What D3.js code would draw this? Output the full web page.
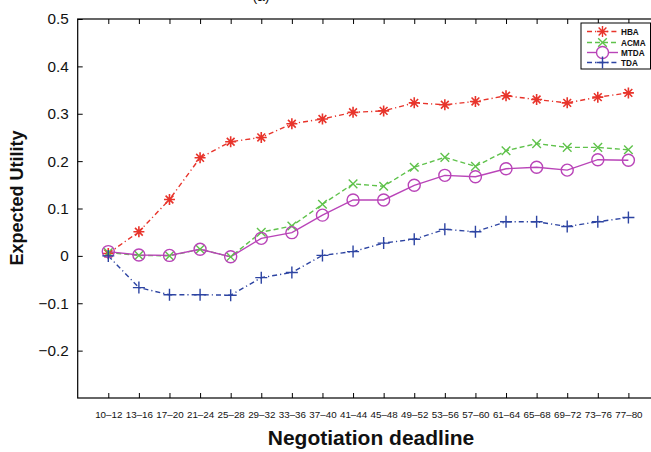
<!DOCTYPE html>
<html><head><meta charset="utf-8">
<script src="https://cdn.jsdelivr.net/npm/d3@7"></script>
<style>body{margin:0;background:#fff}svg{display:block;font-family:"Liberation Sans",Arial,Helvetica,sans-serif}</style>
</head><body>
<script>
const categories = ["10–12","13–16","17–20","21–24","25–28","29–32","33–36","37–40","41–44","45–48","49–52","53–56","57–60","61–64","65–68","69–72","73–76","77–80"];
const HBA  = [0.005,0.051,0.119,0.207,0.241,0.250,0.279,0.289,0.303,0.306,0.323,0.319,0.326,0.338,0.330,0.323,0.335,0.344];
const ACMA = [0.007,0.001,0.000,0.014,-0.002,0.050,0.063,0.109,0.152,0.147,0.187,0.208,0.189,0.222,0.237,0.229,0.229,0.224];
const MTDA = [0.009,0.002,0.001,0.014,-0.002,0.037,0.049,0.086,0.118,0.118,0.149,0.170,0.167,0.184,0.187,0.181,0.203,0.202];
const TDA  = [0.000,-0.067,-0.082,-0.082,-0.083,-0.046,-0.035,0.001,0.009,0.027,0.035,0.056,0.051,0.072,0.072,0.062,0.072,0.081];
const yTicks = [-0.2,-0.1,0,0.1,0.2,0.3,0.4,0.5];
const yTickLabels = ["\u22120.2","\u22120.1","0","0.1","0.2","0.3","0.4","0.5"];
const seriesNames = ["HBA","ACMA","MTDA","TDA"];

const W = 651, H = 452;
const L = 77.7, R = 659, T = 19, B = 398;
const svg = d3.select("body").append("svg").attr("width", W).attr("height", H);

const x = d3.scalePoint().domain(categories).range([L, R]).padding(1);
const y = d3.scaleLinear().domain([-0.3, 0.5]).range([B, T]);

// frame
svg.append("rect").attr("x", L).attr("y", T).attr("width", R - L).attr("height", B - T)
  .attr("fill", "none").attr("stroke", "#000").attr("stroke-width", 1.2);

// axes
const yAx = svg.append("g").attr("transform", `translate(${L},0)`)
  .call(d3.axisLeft(y).tickValues(yTicks).tickSize(-5).tickPadding(9)
    .tickFormat((d, i) => yTickLabels[i]));
yAx.select(".domain").remove();
yAx.selectAll("line").attr("stroke", "#000");
yAx.selectAll("text").attr("font-size", 15.3).attr("fill", "#111");

const xAx = svg.append("g").attr("transform", `translate(0,${B})`)
  .call(d3.axisBottom(x).tickSize(-5).tickPadding(13));
xAx.select(".domain").remove();
xAx.selectAll("line").attr("stroke", "#000");
xAx.selectAll("text").attr("font-size", 9.8).attr("fill", "#111");

const xTop = svg.append("g").attr("transform", `translate(0,${T})`)
  .call(d3.axisTop(x).tickSize(-5).tickFormat(""));
xTop.select(".domain").remove();
xTop.selectAll("line").attr("stroke", "#000");

// titles
svg.append("text").attr("x", 261).attr("y", 1).attr("text-anchor", "middle")
  .attr("font-size", 14).attr("fill", "#111").text("(a)");
svg.append("text").attr("x", 371).attr("y", 445).attr("text-anchor", "middle")
  .attr("font-size", 21).attr("font-weight", "bold").attr("fill", "#111").text("Negotiation deadline");
svg.append("text").attr("transform", "translate(23,198) rotate(-90)").attr("text-anchor", "middle")
  .attr("font-size", 18).attr("font-weight", "bold").attr("fill", "#111").text("Expected Utility");

// markers
function markerPath(type, r) {
  const d = r * 0.7071;
  if (type === "asterisk") return `M${-r},0L${r},0M0,${-r}L0,${r}M${-d},${-d}L${d},${d}M${-d},${d}L${d},${-d}`;
  if (type === "x") return `M${-r},${-r}L${r},${r}M${-r},${r}L${r},${-r}`;
  if (type === "plus") return `M${-r},0L${r},0M0,${-r}L0,${r}`;
  if (type === "circle") return `M${r},0A${r},${r} 0 1,1 ${-r},0A${r},${r} 0 1,1 ${r},0Z`;
}

const series = [
  {name: "HBA", values: HBA, color: "#e8342b", dash: "5,3,1.2,3", marker: "asterisk", r: 5.5},
  {name: "ACMA", values: ACMA, color: "#5fc24b", dash: "5,3", marker: "x", r: 4.3},
  {name: "MTDA", values: MTDA, color: "#b944b8", dash: null, marker: "circle", r: 6},
  {name: "TDA", values: TDA, color: "#2d44a2", dash: "5,3,1.2,3", marker: "plus", r: 6}
];

const line = d3.line().x((d, i) => x(categories[i])).y(d => y(d));
const plot = svg.append("g");
series.forEach(s => {
  plot.append("path").datum(s.values).attr("d", line)
    .attr("fill", "none").attr("stroke", s.color).attr("stroke-width", 1.4)
    .attr("stroke-dasharray", s.dash);
});
series.forEach(s => {
  plot.selectAll(null).data(s.values).enter().append("path")
    .attr("transform", (d, i) => `translate(${x(categories[i])},${y(d)})`)
    .attr("d", markerPath(s.marker, s.r))
    .attr("fill", "none").attr("stroke", s.color).attr("stroke-width", s.marker === "asterisk" ? 1.6 : 1.4);
});

// legend
const lg = svg.append("g");
lg.append("rect").attr("x", 581).attr("y", 23).attr("width", 69.5).attr("height", 46)
  .attr("fill", "#fff").attr("stroke", "#000").attr("stroke-width", 1);
const ly = [31.5, 42.5, 52.5, 62.5];
series.forEach((s, i) => {
  lg.append("line").attr("x1", 587).attr("x2", 618).attr("y1", ly[i]).attr("y2", ly[i])
    .attr("stroke", s.color).attr("stroke-width", 1.4).attr("stroke-dasharray", s.dash);
  lg.append("path").attr("transform", `translate(602.5,${ly[i]})`)
    .attr("d", markerPath(s.marker, s.r)).attr("fill", s.marker === "circle" ? "#fff" : "none")
    .attr("stroke", s.color).attr("stroke-width", 1.4);
  lg.append("text").attr("x", 621).attr("y", ly[i] + 3).attr("font-size", 8.2)
    .attr("font-weight", "bold").attr("fill", "#111").text(seriesNames[i]);
});
</script>
</body></html>
